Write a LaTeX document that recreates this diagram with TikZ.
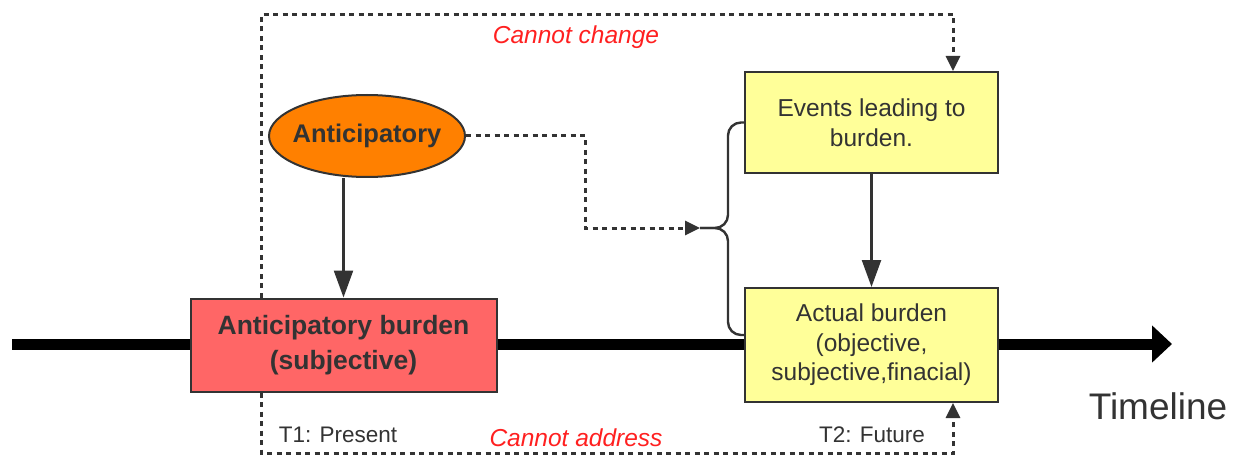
\documentclass[tikz,border=0pt]{standalone}
\usepackage{fontspec}
\setmainfont{Liberation Sans}
\usetikzlibrary{arrows.meta,shapes.geometric}
\definecolor{txt}{HTML}{333333}
\definecolor{edge}{HTML}{333333}
\definecolor{redfill}{HTML}{FF6666}
\definecolor{orangefill}{HTML}{FF8000}
\definecolor{yellowfill}{HTML}{FFFF99}
\definecolor{labelred}{HTML}{FF2020}
\tikzset{
  boxnode/.style={draw=edge, line width=2pt, text=txt, align=center, inner sep=0pt},
  conn/.style={draw=edge, line width=2.4pt},
  solidarrow/.style={conn, -{Triangle[width=19pt,length=27pt]}},
  dasharrow/.style={draw=edge, line width=3pt, dash pattern=on 5pt off 4.5pt, -{Triangle[width=14pt,length=15pt]}},
  redlabel/.style={text=labelred, font=\fontsize{24.5}{28}\selectfont\itshape},
  timelabel/.style={text=txt, font=\fontsize{22.5}{26}\selectfont},
}
\begin{document}
\begin{tikzpicture}[x=1pt,y=-1pt]
\useasboundingbox[fill=white] (0,0) rectangle (1236,457);
% timeline
\coordinate (tlstart) at (12,344);
\coordinate (tlend) at (1172,344);
\draw[line width=11pt, -{Triangle[width=36pt,length=20pt]}] (tlstart) -- (tlend);
\node[text=txt, font=\fontsize{37}{42}\selectfont] (timeline) at (1158,406) {Timeline};

% nodes
\node[boxnode, fill=redfill, minimum width=306pt, minimum height=93pt,
      font=\fontsize{26.5}{35}\selectfont\bfseries] (rb) at (343.5,345)
      {Anticipatory burden\\(subjective)};
\node[boxnode, ellipse, fill=orangefill, inner xsep=-6pt, minimum width=196pt, minimum height=82pt,
      font=\fontsize{25.5}{30}\selectfont\bfseries] (an) at (367,136) {Anticipatory};
\node[boxnode, fill=yellowfill, minimum width=253pt, minimum height=101pt,
      font=\fontsize{24.5}{29.5}\selectfont] (ev) at (871.5,122.5)
      {Events leading to\\burden.};
\node[boxnode, fill=yellowfill, minimum width=253pt, minimum height=114pt,
      font=\fontsize{24.5}{29.5}\selectfont] (act) at (871.5,345)
      {Actual burden\\(objective,\\subjective,finacial)};

% solid arrows
\draw[solidarrow] (an.south -| rb.north) -- (rb.north);
\draw[solidarrow] (ev.south) -- (act.north);

% brace
\coordinate (tip) at (700,228);
\draw[conn, rounded corners=13pt] (ev.west) -- (728,122.5) -- (728,228) -- (tip);
\draw[conn, rounded corners=13pt] ([yshift=10pt]act.west) -- (728,335) -- (728,228) -- (tip);

% dashed from anticipatory to brace
\draw[dasharrow] (an.east) -- (585,136) -- (585,228) -- (tip);

% big dashed loops
\draw[dasharrow] ([xshift=72pt]rb.north west) -- ++(0,-283) -| ([xshift=-46pt]ev.north east);
\draw[dasharrow] ([xshift=72pt]rb.south west) -- ++(0,61) -| ([xshift=-46pt]act.south east);

% labels
\node[redlabel] (cchange) at (576,37) {Cannot change};
\node[redlabel] (caddress) at (576,438) {Cannot address};
\node[timelabel] (t1) at (338,435) {T1: Present};
\node[timelabel] (t2) at (872,435) {T2: Future};
\end{tikzpicture}
\end{document}
